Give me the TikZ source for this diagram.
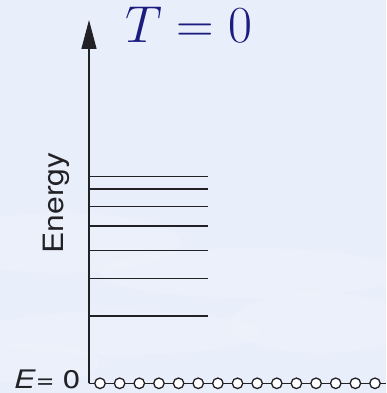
\RequirePackage{fix-cm}
\documentclass[tikz,border=0pt]{standalone}
\usepackage{fontspec}
\setsansfont{TeX Gyre Heros}
\usetikzlibrary{arrows.meta}
\definecolor{bgblue}{RGB}{232,238,250}
\definecolor{navyT}{RGB}{28,28,128}
\definecolor{ink}{RGB}{34,34,38}
\tikzset{
  axisline/.style={draw=ink, line width=1.3pt},
  levelline/.style={draw=ink, line width=1.5pt},
  site/.style={circle, draw=ink, fill=white, line width=1.3pt, minimum size=10.5pt, inner sep=0pt},
  cloud/.style={fill=white, opacity=0.15}
}
\begin{document}
\begin{tikzpicture}[x=1pt,y=1pt]
\useasboundingbox (0,0) rectangle (386,393);
\fill[bgblue] (0,0) rectangle (386,393);
% faint cloudy texture near the bottom
\fill[cloud] (60,150) ellipse (120 and 30);
\fill[cloud] (250,120) ellipse (150 and 25);
\fill[cloud] (120,60) ellipse (140 and 22);
\fill[cloud] (320,70) ellipse (90 and 30);
\fill[cloud] (30,30) ellipse (70 and 20);
% axes
\coordinate (corner) at (89,9.7);
\coordinate (tip) at (89,373);
\coordinate (rightend) at (386,9.7);
\draw[axisline, -{Triangle[length=29pt,width=15pt]}] (corner) -- (tip);
\draw[axisline] (corner) -- (rightend);
% energy levels
\foreach \y in {216.5,204,186.7,167,142.7,114.7,77}{
  \draw[levelline] (89,\y) -- (207.7,\y);
}
% sites
\foreach \i in {0,...,14}{
  \node[site] (c\i) at ({100+19.643*\i},9.7) {};
}
% labels
\node[anchor=base west, inner sep=0pt, text=navyT, font=\fontsize{52}{60}\selectfont] (title) at (125,350.5) {$T = 0$};
\node[anchor=base, rotate=90, inner sep=0pt, text=ink, font=\sffamily\fontsize{28}{32}\selectfont] (energy) at (63.3,190) {\scalebox{1.14}[1]{Energy}};
\node[anchor=base west, inner sep=0pt, text=ink, font=\sffamily\fontsize{25.5}{29}\selectfont] (ezero) at (14,4.8) {\scalebox{1.22}[1]{\textit{E}= 0}};
\end{tikzpicture}
\end{document}
